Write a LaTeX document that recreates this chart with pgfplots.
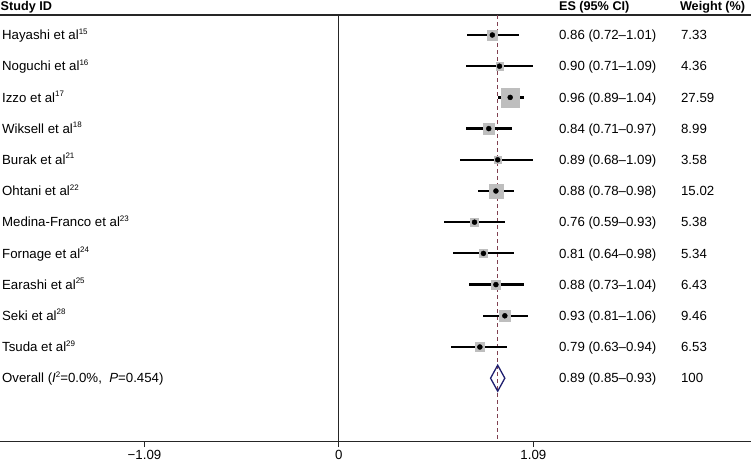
\documentclass[border=0pt]{standalone}
\usepackage{pgfplots}
\usepackage{pgfplotstable}
\pgfplotsset{compat=1.18}
\usepackage{fontspec}
\setmainfont{Liberation Sans}
\definecolor{boxgray}{RGB}{190,190,190}
\definecolor{dashcol}{RGB}{128,64,80}
\definecolor{navyd}{RGB}{30,30,110}
\newcommand\tf{\fontsize{13.3}{16}\selectfont}
\newcommand\hf{\fontsize{12.7}{15}\selectfont\bfseries}
\newcommand\folk[1]{\raisebox{0.42em}{\fontsize{8}{8}\selectfont #1}}
\tikzset{lbl/.style={anchor=base west, inner sep=0pt, font=\tf}}

\pgfplotstableread{
row es lo hi w
-1 0.86 0.72 1.01 7.33
-2 0.90 0.71 1.09 4.36
-3 0.96 0.89 1.04 27.59
-4 0.84 0.71 0.97 8.99
-5 0.89 0.68 1.09 3.58
-6 0.88 0.78 0.98 15.02
-7 0.76 0.59 0.93 5.38
-8 0.81 0.64 0.98 5.34
-9 0.88 0.73 1.04 6.43
-10 0.93 0.81 1.06 9.46
-11 0.79 0.63 0.94 6.53
}\studies

\begin{document}
\begin{tikzpicture}
\begin{axis}[
  set layers,
  at={(0,0)}, anchor=south west,
  scale only axis, width=751bp, height=441bp,
  xmin=-1.9, xmax=2.31, ymin=-14.013, ymax=0.122,
  axis x line*=bottom, axis y line=none,
  xtick={-1.09,0,1.09}, xticklabels={−1.09,0,1.09},
  tick align=outside, major tick length=6bp,
  x axis line style={line width=0.9bp, black!85},
  tick style={line width=0.9bp, black!85},
  xticklabel style={font=\tf, inner sep=0pt, yshift=-3bp},
  clip=false,
]
% header and reference lines
\addplot[line width=1.1bp, black!85] coordinates {(-1.9,-0.359) (2.31,-0.359)};
\addplot[line width=0.9bp, black!85] coordinates {(0,-0.359) (0,-14.013)};
% weighted boxes
\addplot[on layer=axis background, scatter, only marks, mark=square*,
  draw=boxgray, fill=boxgray, mark options={draw=boxgray, fill=boxgray},
  scatter/use mapped color={draw=boxgray, fill=boxgray},
  visualization depends on={1.81*sqrt(\thisrow{w}) \as \msize},
  scatter/@pre marker code/.append style={/tikz/mark size=\msize}]
  table[x=es, y=row] {\studies};
\addplot[dashcol, line width=0.9bp, dash pattern=on 4bp off 3bp] coordinates {(0.89,-0.359) (0.89,-14.013)};
% CIs and point estimates
\addplot[only marks, mark=*, mark size=2.5bp, black,
  error bars/.cd, x dir=both, x explicit, error mark=none,
  error bar style={line width=2.2bp, black}]
  table[x=es, y=row,
        x error minus expr={\thisrow{es}-\thisrow{lo}},
        x error plus expr={\thisrow{hi}-\thisrow{es}}] {\studies};
% overall diamond
\addplot[navyd, line width=1.3bp] coordinates {(0.85,-12) (0.89,-11.583) (0.93,-12) (0.89,-12.417)} -- cycle;

% headers
\node[lbl, font=\hf] at (axis cs:-1.897,-0.215) {Study ID};
\node[lbl, font=\hf] at (axis cs:1.233,-0.215) {ES (95\% CI)};
\node[lbl, font=\hf] at (axis cs:1.911,-0.215) {Weight (\%)};

% study names
\node[lbl] at (axis cs:-1.889,-1.149) {Hayashi et al\folk{15}};
\node[lbl] at (axis cs:-1.889,-2.149) {Noguchi et al\folk{16}};
\node[lbl] at (axis cs:-1.889,-3.149) {Izzo et al\folk{17}};
\node[lbl] at (axis cs:-1.889,-4.149) {Wiksell et al\folk{18}};
\node[lbl] at (axis cs:-1.889,-5.149) {Burak et al\folk{21}};
\node[lbl] at (axis cs:-1.889,-6.149) {Ohtani et al\folk{22}};
\node[lbl] at (axis cs:-1.889,-7.149) {Medina-Franco et al\folk{23}};
\node[lbl] at (axis cs:-1.889,-8.149) {Fornage et al\folk{24}};
\node[lbl] at (axis cs:-1.889,-9.149) {Earashi et al\folk{25}};
\node[lbl] at (axis cs:-1.889,-10.149) {Seki et al\folk{28}};
\node[lbl] at (axis cs:-1.889,-11.149) {Tsuda et al\folk{29}};
\node[lbl] at (axis cs:-1.889,-12.149) {Overall (\textit{I}\folk{2}=0.0\%,\ \ \textit{P}=0.454)};

% ES column
\node[lbl] at (axis cs:1.233,-1.149) {0.86 (0.72–1.01)};
\node[lbl] at (axis cs:1.233,-2.149) {0.90 (0.71–1.09)};
\node[lbl] at (axis cs:1.233,-3.149) {0.96 (0.89–1.04)};
\node[lbl] at (axis cs:1.233,-4.149) {0.84 (0.71–0.97)};
\node[lbl] at (axis cs:1.233,-5.149) {0.89 (0.68–1.09)};
\node[lbl] at (axis cs:1.233,-6.149) {0.88 (0.78–0.98)};
\node[lbl] at (axis cs:1.233,-7.149) {0.76 (0.59–0.93)};
\node[lbl] at (axis cs:1.233,-8.149) {0.81 (0.64–0.98)};
\node[lbl] at (axis cs:1.233,-9.149) {0.88 (0.73–1.04)};
\node[lbl] at (axis cs:1.233,-10.149) {0.93 (0.81–1.06)};
\node[lbl] at (axis cs:1.233,-11.149) {0.79 (0.63–0.94)};
\node[lbl] at (axis cs:1.233,-12.149) {0.89 (0.85–0.93)};

% weight column
\node[lbl] at (axis cs:1.917,-1.149) {7.33};
\node[lbl] at (axis cs:1.917,-2.149) {4.36};
\node[lbl] at (axis cs:1.917,-3.149) {27.59};
\node[lbl] at (axis cs:1.917,-4.149) {8.99};
\node[lbl] at (axis cs:1.917,-5.149) {3.58};
\node[lbl] at (axis cs:1.917,-6.149) {15.02};
\node[lbl] at (axis cs:1.917,-7.149) {5.38};
\node[lbl] at (axis cs:1.917,-8.149) {5.34};
\node[lbl] at (axis cs:1.917,-9.149) {6.43};
\node[lbl] at (axis cs:1.917,-10.149) {9.46};
\node[lbl] at (axis cs:1.917,-11.149) {6.53};
\node[lbl] at (axis cs:1.917,-12.149) {100};
\end{axis}
\pgfresetboundingbox
\path (0,-22bp) rectangle (751bp,441bp);
\end{tikzpicture}
\end{document}
